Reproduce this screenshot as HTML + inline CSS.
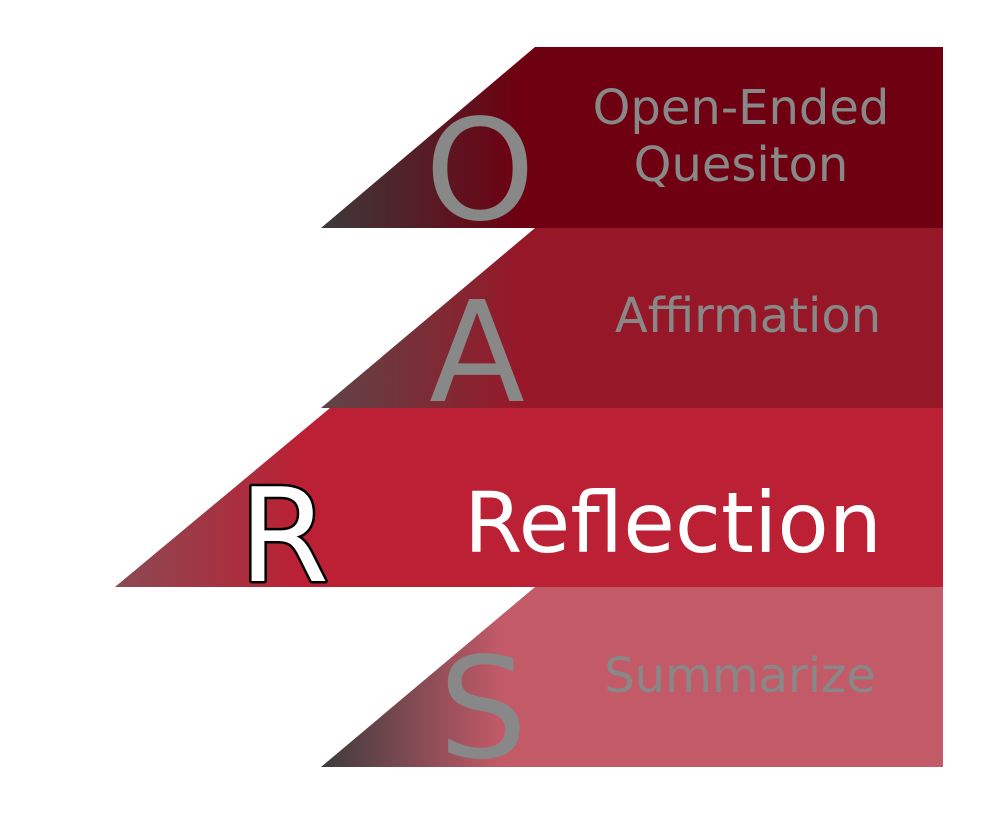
<!DOCTYPE html>
<html><head><style>html,body{margin:0;padding:0;background:#fff;width:1000px;height:828px;overflow:hidden}</style></head>
<body>
<svg width="1000" height="828" xmlns="http://www.w3.org/2000/svg" font-family="'DejaVu Sans', Verdana, sans-serif">
<defs>
<linearGradient id="g1" gradientUnits="userSpaceOnUse" x1="321" y1="0" x2="520" y2="0"><stop offset="0" stop-color="#3d3a3b"/><stop offset="1" stop-color="#6e0011"/></linearGradient>
<linearGradient id="g2" gradientUnits="userSpaceOnUse" x1="321" y1="0" x2="520" y2="0"><stop offset="0" stop-color="#5e4447"/><stop offset="1" stop-color="#961828"/></linearGradient>
<linearGradient id="g3" gradientUnits="userSpaceOnUse" x1="115" y1="0" x2="300" y2="0"><stop offset="0" stop-color="#8a4a53"/><stop offset="1" stop-color="#bb2035"/></linearGradient>
<linearGradient id="g4" gradientUnits="userSpaceOnUse" x1="321" y1="0" x2="500" y2="0"><stop offset="0" stop-color="#3d3a3b"/><stop offset="1" stop-color="#c25a68"/></linearGradient>
</defs>
<polygon points="535,47 943,47 943,228 321,228" fill="url(#g1)"/>
<polygon points="535,228 943,228 943,408 321,408" fill="url(#g2)"/>
<polygon points="330,408 943,408 943,587 115,587" fill="url(#g3)"/>
<polygon points="535,587 943,587 943,767 321,767" fill="url(#g4)"/>
<g fill="#888" font-size="140" text-anchor="middle">
<text x="480" y="219">O</text>
<text x="477" y="401">A</text>
<text x="483" y="757">S</text>
</g>
<text x="284" y="581" font-size="130" text-anchor="middle" fill="#fff" stroke="#000" stroke-width="5" stroke-linejoin="round" paint-order="stroke">R</text>
<g fill="#888" font-size="48" text-anchor="middle">
<text x="741" y="124">Open-Ended</text>
<text x="741" y="181">Quesiton</text>
<text x="748" y="332">Affirmation</text>
<text x="740" y="692">Summarize</text>
</g>
<text x="673" y="552" font-size="84" text-anchor="middle" fill="#fff">Reflection</text>
</svg>
</body></html>
